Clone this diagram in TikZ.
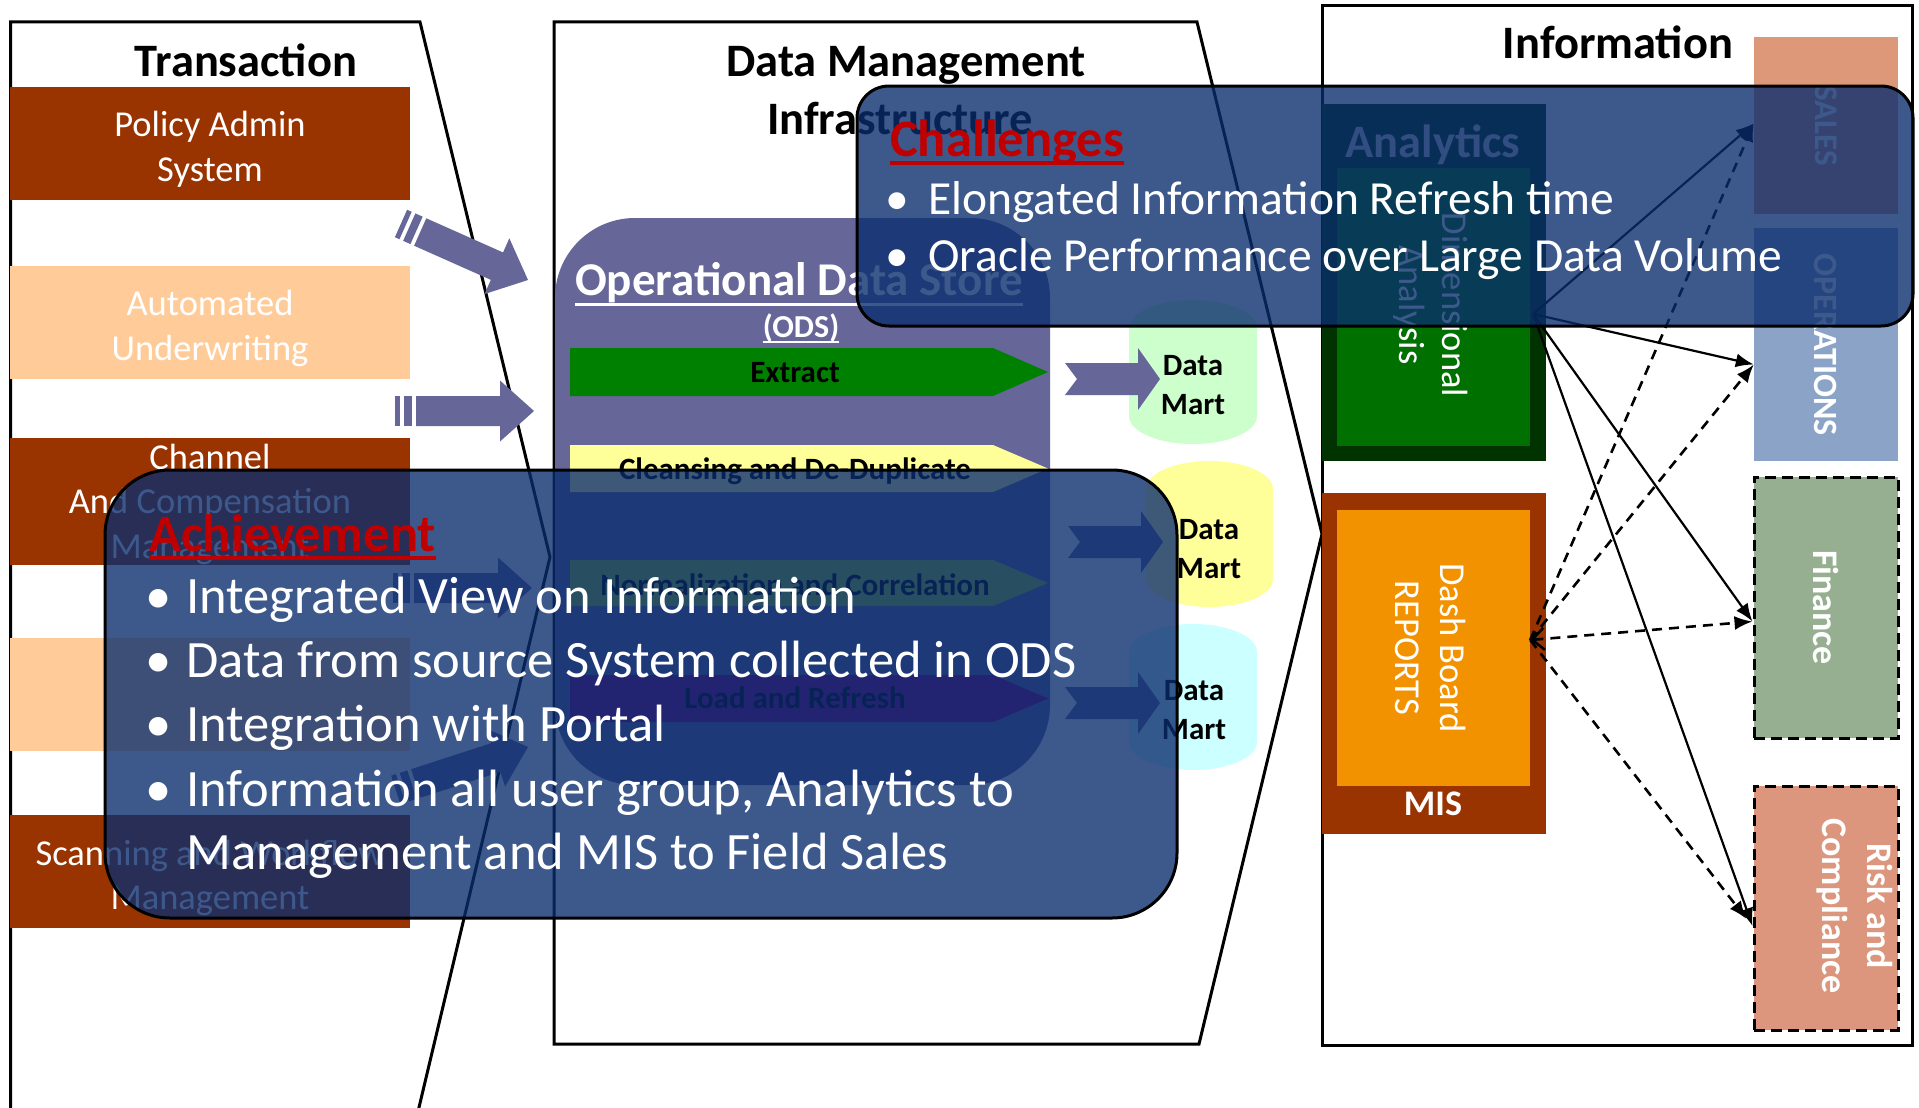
\documentclass[tikz,border=0pt]{standalone}
\usepackage{fontspec}
\setmainfont{Carlito}
\usetikzlibrary{calc,arrows.meta}

\definecolor{brownbox}{HTML}{993300}
\definecolor{peach}{HTML}{FFCC99}
\definecolor{slateblue}{HTML}{666699}
\definecolor{extractgreen}{HTML}{008000}
\definecolor{cleanyellow}{HTML}{FFFF99}
\definecolor{normgreen}{HTML}{99CC33}
\definecolor{loadpurple}{HTML}{800080}
\definecolor{dmgreen}{HTML}{CCFFCC}
\definecolor{dmyellow}{HTML}{FFFF99}
\definecolor{dmcyan}{HTML}{CCFFFF}
\definecolor{anaouter}{HTML}{003300}
\definecolor{anainner}{HTML}{007000}
\definecolor{misinner}{HTML}{F39200}
\definecolor{salesfill}{HTML}{DC9878}
\definecolor{opsfill}{HTML}{8AA3C6}
\definecolor{finfill}{HTML}{96AF91}
\definecolor{riskfill}{HTML}{DC967D}
\definecolor{overlayblue}{RGB}{10,45,110}
\definecolor{headred}{HTML}{C00000}
\definecolor{titlegray}{HTML}{C8C8C8}

\newcommand\fsz[2]{\fontsize{#1}{#2}\selectfont}
\newcommand\tstrut{\rule{0pt}{37pt}}

% striped block arrow, tip at (#1,#2), turned by #3 degrees
\newcommand\stripedarrow[3]{%
  \begin{scope}[shift={(#1,#2)}, rotate=#3]
    \fill[slateblue] (-139,-15) rectangle (-134,15);
    \fill[slateblue] (-130,-15) rectangle (-122,15);
    \fill[slateblue] (-118,-15) -- (-34,-15) -- (-34,-30.5) -- (0,0)
      -- (-34,30.5) -- (-34,15) -- (-118,15) -- cycle;
  \end{scope}}

% notched block arrow, tip at (#1,#2)
\newcommand\notchedarrow[2]{%
  \begin{scope}[shift={(#1,#2)}]
    \fill[slateblue] (-95,-16) -- (-22,-16) -- (-22,-31) -- (0,0)
      -- (-22,31) -- (-22,16) -- (-95,16) -- (-83,0) -- cycle;
  \end{scope}}

% pentagon step inside the ODS: top y, bottom y, colour
\newcommand\flowarrow[3]{%
  \fill[#3] (570,#1) -- (993,#1) -- (1048,{(#1+#2)/2}) -- (993,#2) -- (570,#2) -- cycle;}

% data mart can: x1, y top, x2, y bottom, cap radius, colour
\newcommand\datamart[6]{%
  \pgfmathsetmacro\cx{(#1+#3)/2}%
  \pgfmathsetmacro\kx{0.5523*(#3-#1)/2}%
  \pgfmathsetmacro\ky{0.5523*#5}%
  \fill[#6] (#1,#2+#5) .. controls (#1,#2+#5-\ky) and (\cx-\kx,#2) .. (\cx,#2)
    .. controls (\cx+\kx,#2) and (#3,#2+#5-\ky) .. (#3,#2+#5)
    -- (#3,#4-#5) .. controls (#3,#4-#5+\ky) and (\cx+\kx,#4) .. (\cx,#4)
    .. controls (\cx-\kx,#4) and (#1,#4-#5+\ky) .. (#1,#4-#5) -- cycle;}

\tikzset{
  panel/.style={draw=black, line width=3pt, line join=miter},
  tbox/.style={minimum width=400pt, minimum height=113pt, inner sep=0pt,
    text=white, align=center, font=\fsz{36.5}{44.5}},
  ttl/.style={font=\bfseries\fsz{46.5}{46.5}, anchor=base, inner sep=0pt},
  flowtxt/.style={font=\bfseries\fsz{31}{31}, anchor=base, inner sep=0pt},
  marttxt/.style={font=\bfseries\fsz{31}{39}, align=center, inner sep=0pt},
  ibox/.style={inner sep=0pt, draw=none},
  vtxt/.style={rotate=-90, text=white, align=center, inner sep=0pt},
  target/.style={ibox, minimum width=144pt},
  dashedbox/.style={draw=black, line width=3pt, dash pattern=on 11pt off 6pt},
  conn/.style={draw=black, line width=2.2pt, -{Latex[length=18pt,width=14pt]}},
  dconn/.style={conn, line width=2.6pt, dash pattern=on 10pt off 7pt},
  overlay/.style={fill=overlayblue, fill opacity=0.79, draw=black, line width=3pt},
  headtxt/.style={font=\bfseries\fsz{52.5}{52.5}, text=headred, anchor=base west, inner sep=0pt},
  achtxt/.style={font=\fsz{52.5}{52.5}, text=white, anchor=base west, inner sep=0pt},
  chltxt/.style={font=\fsz{47.5}{47.5}, text=white, anchor=base west, inner sep=0pt},
  achdot/.style={font=\fsz{52.5}{52.5}, text=white, anchor=base, inner sep=0pt},
  chldot/.style={font=\fsz{47.5}{47.5}, text=white, anchor=base, inner sep=0pt},
}

\begin{document}
\begin{tikzpicture}[x=1pt,y=-1pt]
\useasboundingbox (0,0) rectangle (1919,1108);
\fill[white] (0,0) rectangle (1919,1108);

% ---------------- three columns ----------------
\draw[panel] (10.5,1120) -- (10.5,22) -- (420,22) -- (550,557) -- (416,1120);
\draw[panel] (554,22) -- (1197,22) -- (1322,534) -- (1199,1044) -- (554,1044) -- cycle;
\draw[panel] (1322,6) rectangle (1912,1045);

\node[ttl] (ttrans) at (246,77) {Transaction};
\node[ttl] (tdm1) at (906,77) {Data Management};
\node[ttl] (tdm2) at (900,134) {Infrastructure};
\node[ttl] (tinfo) at (1618,59) {Information};

% ---------------- transaction systems ----------------
\node[fill=brownbox, tbox] (pas) at (210,143.5) {\tstrut Policy Admin\\System};
\node[fill=peach, tbox] (auw) at (210,322.5) {\tstrut Automated\\Underwriting};
\node[fill=brownbox, tbox] (ccm) at (210,501.5) {\rule{0pt}{31pt}Channel\\And Compensation\\Management};
\node[fill=peach, tbox] (src4) at (210,694.5) {};
\node[fill=brownbox, tbox] (swm) at (210,871) {\rule{0pt}{39pt}Scanning and Workflow\\Management};

\stripedarrow{528}{280}{-24}
\stripedarrow{534}{411}{0}
\stripedarrow{532}{588}{0}
\stripedarrow{528}{747}{18}

% ---------------- operational data store ----------------
\fill[slateblue, rounded corners=80pt] (555,218) rectangle (1050,785);
\node[font=\bfseries\fsz{47}{47}, text=white, anchor=base west, inner sep=0pt] (odst) at (575,295) {Operational Data Store};
\draw[white, line width=3pt] ($(odst.base west)+(0,9)$) -- ($(odst.base east)+(0,9)$);
\node[font=\bfseries\fsz{32}{32}, text=white, anchor=base, inner sep=0pt] (odss) at (801,337) {(ODS)};
\draw[white, line width=2.5pt] ($(odss.base west)+(0,5)$) -- ($(odss.base east)+(0,5)$);

\flowarrow{348}{396}{extractgreen}
\flowarrow{445}{492}{cleanyellow}
\flowarrow{560}{606}{normgreen}
\flowarrow{675}{722}{loadpurple}
\node[flowtxt] (fext) at (795,382) {Extract};
\node[flowtxt] (fcln) at (795,479) {Cleansing and De-Duplicate};
\node[flowtxt] (fnrm) at (795,595) {Normalization and Correlation};
\node[flowtxt] (flod) at (795,708) {Load and Refresh};

% ---------------- data marts ----------------
\datamart{1129}{300}{1257}{444}{28}{dmgreen}
\datamart{1146}{461}{1273}{607}{28}{dmyellow}
\datamart{1129}{624}{1257}{770}{28}{dmcyan}
\node[marttxt] (dm1) at (1193,385) {Data\\Mart};
\node[marttxt] (dm2) at (1209,549) {Data\\Mart};
\node[marttxt] (dm3) at (1194,710) {Data\\Mart};

\notchedarrow{1160}{379}
\notchedarrow{1163}{542}
\notchedarrow{1160}{703}

% ---------------- information ----------------
\node[ibox, fill=anaouter, minimum width=224pt, minimum height=357pt] (anaout) at (1434,282.5) {};
\node[ibox, fill=anainner, minimum width=193pt, minimum height=278pt] (ana) at (1433.5,307) {};
\node[font=\bfseries\fsz{46.5}{46.5}, text=titlegray, anchor=base, inner sep=0pt] (anat) at (1433,157) {Analytics};
\node[vtxt, font=\fsz{36.5}{43}] (anal) at (1431,305) {Dimensional\\Analysis};

\node[ibox, fill=brownbox, minimum width=224pt, minimum height=341pt] (misout) at (1434,663.5) {};
\node[ibox, fill=misinner, minimum width=193pt, minimum height=276pt] (mis) at (1433.5,648) {};
\node[font=\bfseries\fsz{36}{36}, text=white, anchor=base, inner sep=0pt] (mist) at (1433,815) {MIS};
\node[vtxt, font=\fsz{36.5}{45}] (dash) at (1431,648) {Dash Board\\REPORTS};

\node[target, fill=salesfill, minimum height=177pt] (sales) at (1826,125.5) {};
\node[target, fill=opsfill, minimum height=233pt] (ops) at (1826,344.5) {};
\node[target, fill=finfill, minimum height=261pt, dashedbox] (fin) at (1826,607.5) {};
\node[target, fill=riskfill, minimum height=244pt, dashedbox] (risk) at (1826,908) {};
\node[vtxt, font=\bfseries\fsz{33}{33}] (salest) at (sales) {SALES};
\node[vtxt, font=\bfseries\fsz{34}{34}] (opst) at (ops) {OPERATIONS};
\node[vtxt, font=\bfseries\fsz{36}{36}] (fint) at (fin) {Finance};
\node[vtxt, font=\bfseries\fsz{36}{45}] (riskt) at (1855,906) {Risk and\\Compliance};

\coordinate (aout) at ($(ana.east)+(3,7)$);
\coordinate (mout) at ($(mis.east)+(0,-8)$);
\coordinate (inS) at ($(sales.west)+(0,-2)$);
\coordinate (inO) at ($(ops.west)+(0,20)$);
\coordinate (inF) at ($(fin.west)+(0,14)$);
\coordinate (inR) at ($(risk.west)+(0,18)$);
\coordinate (inRd) at ($(risk.west)+(-6,11)$);

\draw[conn] (aout) -- (inS);
\draw[conn] (aout) -- (inO);
\draw[conn] (aout) -- (inF);
\draw[conn] (aout) -- (inR);
\draw[dconn] (mout) -- (inS);
\draw[dconn] (mout) -- (inO);
\draw[dconn, {Straight Barb[length=12pt,width=22pt]}-{Latex[length=18pt,width=14pt]}] (mout) -- (inF);
\draw[dconn] (mout) -- (inRd);

% ---------------- call-outs ----------------
\filldraw[overlay, rounded corners=65pt] (105,470) rectangle (1177,918);
\node[headtxt] (achh) at (149,551) {Achievement};
\draw[headred, line width=4.5pt] ($(achh.base west)+(0,7)$) -- ($(achh.base east)+(0,7)$);
\node[achdot] (ab1) at (159,613) {•};
\node[achdot] (ab2) at (159,677) {•};
\node[achdot] (ab3) at (159,741) {•};
\node[achdot] (ab4) at (159,806) {•};
\node[achtxt] (al1) at (186,613) {Integrated View on Information};
\node[achtxt] (al2) at (186,677) {Data from source System collected in ODS};
\node[achtxt] (al3) at (186,741) {Integration with Portal};
\node[achtxt] (al4) at (186,806) {Information all user group, Analytics to};
\node[achtxt] (al5) at (186,869) {Management and MIS to Field Sales};

\filldraw[overlay, rounded corners=32pt] (857,86) rectangle (1913,326);
\node[headtxt] (chlh) at (890,156) {Challenges};
\draw[headred, line width=4.5pt] ($(chlh.base west)+(0,7)$) -- ($(chlh.base east)+(0,7)$);
\node[chldot] (cb1) at (897,214) {•};
\node[chldot] (cb2) at (897,271) {•};
\node[chltxt] (cl1) at (928,214) {Elongated Information Refresh time};
\node[chltxt] (cl2) at (928,271) {Oracle Performance over Large Data Volume};
\end{tikzpicture}
\end{document}
